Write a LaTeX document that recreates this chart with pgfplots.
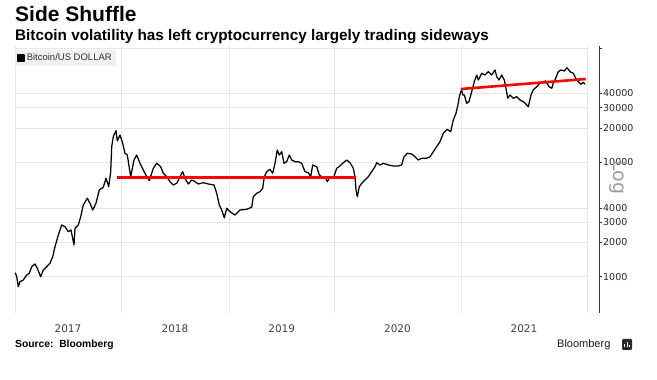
\documentclass[border=0pt]{standalone}
\usepackage{fontspec}
\setmainfont{Liberation Sans}
\newfontfamily\dejavu{DejaVu Sans}
\usepackage{pgfplots}
\pgfplotsset{compat=1.18}
\definecolor{gridc}{HTML}{E6E6E6}
\definecolor{btcred}{HTML}{FF0000}
\begin{document}
\begin{tikzpicture}
\path[use as bounding box] (0pt,0pt) rectangle (657pt,380pt);
\begin{axis}[
  at={(15pt,67pt)}, anchor=south west,
  scale only axis, width=572pt, height=267pt,
  xmin=15, xmax=587,
  ymode=log, ymin=481.6, ymax=103900,
  axis x line*=bottom, axis y line*=right,
  x axis line style={draw=none},
  y axis line style={xshift=12pt, draw=black!80, line width=0.7pt},
  xtick={68,175,281.7,397.5,524},
  xticklabels={2017,2018,2019,2020,2021},
  minor xtick={15,121,229.5,334,461,587},
  xminorgrids, minor x tick style={draw=none},
  major x tick style={draw=none},
  minor grid style={draw=gridc, line width=0.6pt},
  ytick={1000,2000,3000,4000,10000,20000,30000,40000,100000},
  yticklabels={1000,2000,3000,4000,10000,20000,30000,40000,{}},
  yminorticks=false,
  ymajorgrids, major grid style={draw=gridc, line width=0.6pt},
  ytick style={xshift=12pt, draw=black!80, line width=0.6pt},
  tick align=outside, major tick length=3pt,
  yticklabel style={xshift=12pt, font=\dejavu\fontsize{9.5}{10}\selectfont, text=black!85, inner xsep=1pt},
  xticklabel style={font=\dejavu\fontsize{10.5}{11}\selectfont, text=black!75, yshift=-5pt},
  legend style={at={(0,1)}, anchor=north west, yshift=-4pt, fill=black!6, draw=none,
    font=\fontsize{9.5}{10}\selectfont, text=black!80, inner sep=1.8pt, row sep=0pt},
  legend cell align=left,
  legend image code/.code={\fill[black] (0pt,-3.2pt) rectangle (6.5pt,3.2pt);},
  clip=false,
]
\addplot[black, line width=1.25pt, line join=round] coordinates {
(15.3,1084) (16.7,1000) (18.3,818) (20,904) (23.3,936) (26.7,1035) (29.3,1071)
(31.7,1223) (35,1291) (37.3,1184) (40.7,1000) (43.3,1144) (46.7,1223) (50,1310)
(52.7,1496) (55,1829) (58.3,2315) (61.7,2831) (65,2735) (68.3,2474) (71,2560)
(74,1893) (75,2649) (78.3,2831) (80.7,3346) (83.3,4235) (87.3,4845) (90,4381)
(92.7,3828) (96,4381) (99.3,5726) (103.3,6047) (106,7246) (108.7,6120)
(110.7,8277) (111.7,13690) (113.3,16740) (116,18890) (117.3,15400) (120,17320)
(122.7,14660) (125,11990) (127.3,11580) (130.7,7483) (134,10470) (136.7,11580)
(140,9802) (143.3,8564) (146.7,7483) (149.3,6906) (153.3,8863) (156.7,9802)
(160.7,9152) (163.3,8013) (166.7,7483) (170,6768) (173.3,6332) (176.7,6553)
(180,7483) (182.7,8277) (185,7246) (188.3,6461) (191.7,7004) (195,6768)
(198.3,6461) (203.3,6632) (208.3,6461) (214,6332) (216.7,5358) (219.3,4235)
(221.7,3828) (224.3,3270) (226.7,3962) (230,3700) (235,3462) (240,3828)
(246.7,3884) (251.7,4044) (253.3,5003) (256.7,5358) (260,5534) (262.7,5926)
(264.3,7483) (266.7,8277) (270,8686) (272.7,8013) (275,9802) (277.3,12810)
(279.3,11580) (281.7,12380) (284,9802) (286.7,10120) (289.3,11580) (291.7,10470)
(295,10120) (298.3,10120) (301.7,9802) (305,8277) (308.3,8110) (310.7,7483)
(312.7,9471) (316.7,9152) (319.3,7745) (321.7,7483) (325,7483) (327.3,6768)
(330,7483) (333.3,7246) (336.7,8863) (340,9284) (343.3,9920) (346.7,10470)
(350,9920) (353.3,8863) (355,7483) (356,5726) (357.3,5003) (359.3,6120)
(361.7,6553) (365,7004) (368.3,7483) (371.7,8277) (375,9152) (376.7,9920)
(380,9471) (383.3,9802) (388.3,9471) (393.3,9284) (398.3,9284) (401.7,9471)
(404,11190) (407.3,11990) (411.7,11820) (415,11190) (418.3,10470) (421.7,10840)
(426.7,10840) (430,11190) (433.3,12380) (436.7,13690) (440,15140) (443.3,17930)
(447.3,19430) (450.7,18510) (453.3,23430) (456,26820) (458.3,32800) (459,36270)
(460.7,41420) (461.7,42870) (462.7,38770) (464.3,38770) (466.7,32800) (469,33870)
(471.7,41420) (474.3,50650) (476.7,57970) (478.3,52410) (481.7,59980) (485,57970)
(488.3,61940) (491.7,57970) (495,64120) (496.7,56020) (499,52410) (501.7,57970)
(504.3,52410) (505.7,45800) (507.7,36270) (510,38770) (513.3,36270) (516.7,37450)
(520,35050) (523.3,33870) (526.7,31690) (528.3,30620) (531,38770) (533.3,42870)
(536.7,45800) (540,49040) (543.3,50650) (545.7,51370) (549,45800) (551.7,44360)
(553.3,49040) (555.7,54240) (558.3,61940) (561,64120) (564.3,62820) (567,67130)
(570,61940) (573.3,59980) (575.7,54240) (578.3,50650) (581,48060) (583.3,50030)
(585,48060)
};
\addlegendentry{Bitcoin/US DOLLAR}
\addplot[btcred, line width=2.6pt, forget plot] coordinates {(116.7,7395) (356,7395)};
\addplot[btcred, line width=2.6pt, forget plot] coordinates {(461,43720) (585.7,53470)};
\end{axis}
\node[anchor=base west, inner sep=0pt, font=\bfseries\fontsize{21}{24}\selectfont] at (15pt,358pt) {Side Shuffle};
\node[anchor=base west, inner sep=0pt, font=\bfseries\fontsize{15.3}{17}\selectfont] at (15pt,339pt) {Bitcoin volatility has left cryptocurrency largely trading sideways};
\node[anchor=center, inner sep=0pt, rotate=-90, text=black!38, font=\dejavu\fontsize{19}{20}\selectfont] at (618.5pt,202.5pt) {Log};
\node[anchor=base west, inner sep=0pt, font=\bfseries\fontsize{10.3}{12}\selectfont] at (15pt,32pt) {Source:\ \ Bloomberg};
\node[anchor=base west, inner sep=0pt, font=\fontsize{11}{12}\selectfont, text=black!90] at (557pt,32pt) {Bloomberg};
\fill[black!85, rounded corners=1.2pt] (622pt,30pt) rectangle (632pt,41pt);
\draw[white, line width=0.8pt] (624.5pt,33pt) -- (624.5pt,36pt) (627pt,33pt) -- (627pt,38pt) (629.5pt,33pt) -- (629.5pt,35pt);
\end{tikzpicture}
\end{document}
